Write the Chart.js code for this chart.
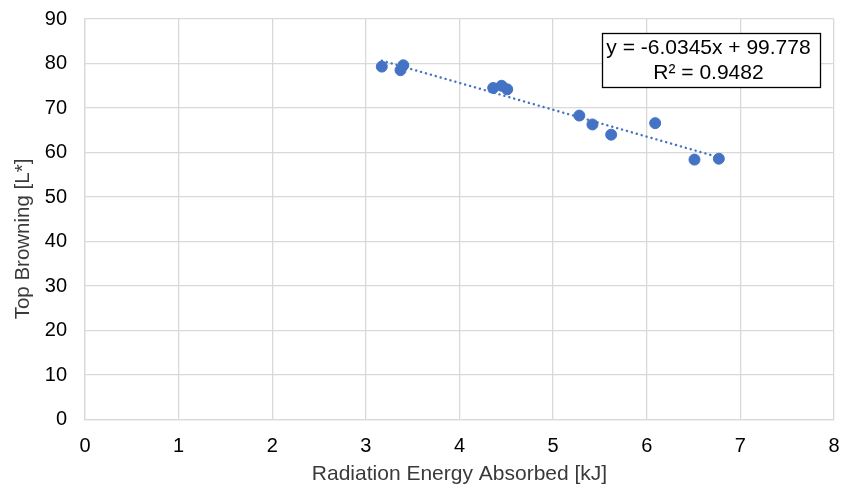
<!DOCTYPE html>
<html><head><meta charset="utf-8">
<script src="https://cdn.jsdelivr.net/npm/chart.js@4/dist/chart.umd.min.js"></script>
<style>html,body{margin:0;padding:0;background:#fff}#wrap{width:843px;height:489px;position:relative}</style>
</head><body><div id="wrap"><canvas id="c"></canvas></div>
<script>
const energyKJ = [3.17, 3.37, 3.40, 4.36, 4.45, 4.51, 5.28, 5.42, 5.62, 6.09, 6.51, 6.77];
const topBrowningL = [79.3, 78.5, 79.6, 74.5, 75.0, 74.2, 68.3, 66.3, 64.0, 66.6, 58.4, 58.6];
const slope = -6.0345;
const intercept = 99.778;
const rSquared = 0.9482;
const trendX = [3.17, 6.77];
const trendY = [slope * trendX[0] + intercept, slope * trendX[1] + intercept];
const xTicks = [0,1,2,3,4,5,6,7,8];
const yTicks = [0,10,20,30,40,50,60,70,80,90];
const xTitle = 'Radiation Energy Absorbed [kJ]';
const yTitle = 'Top Browning [L*]';

const FONT = "'Liberation Sans', Arial, sans-serif";
const BLUE = '#4472C4';
const GRID = '#d9d9d9';
const TITLE_COLOR = '#3a3a3a';

const overlayPlugin = {
  id: 'overlay',
  afterDatasetsDraw(chart) {
    const ctx = chart.ctx;
    const x0 = 602, y0 = 33, w = 218, h = 54;
    ctx.save();
    ctx.fillStyle = '#fff';
    ctx.fillRect(x0, y0, w, h);
    ctx.strokeStyle = '#000';
    ctx.lineWidth = 1.3;
    ctx.strokeRect(x0 + 0.5, y0 + 0.5, w, h);
    ctx.fillStyle = '#000';
    ctx.font = '21px ' + FONT;
    ctx.textAlign = 'center';
    ctx.textBaseline = 'middle';
    ctx.fillText('y = ' + slope.toFixed(4) + 'x + ' + intercept.toFixed(3), x0 + w / 2 - 2.5, y0 + 15);
    ctx.fillText('R\u00B2 = ' + rSquared.toFixed(4), x0 + w / 2 - 2.5, y0 + 40);

    // axis titles
    const ca = chart.chartArea;
    ctx.fillStyle = TITLE_COLOR;
    ctx.font = '21px ' + FONT;
    ctx.textAlign = 'center';
    ctx.textBaseline = 'alphabetic';
    ctx.fillText(xTitle, (ca.left + ca.right) / 2, 480);
    ctx.translate(29, 239);
    ctx.rotate(-Math.PI / 2);
    ctx.font = '20.5px ' + FONT;
    ctx.fillText(yTitle, 0, 0);
    ctx.restore();
  }
};

new Chart(document.getElementById('c'), {
  type: 'scatter',
  data: {
    datasets: [
      {
        type: 'line',
        data: trendX.map((x, i) => ({x: x, y: trendY[i]})),
        borderColor: BLUE,
        borderWidth: 2.4,
        borderDash: [0.1, 5],
        borderCapStyle: 'round',
        pointRadius: 0,
        fill: false,
        order: 2
      },
      {
        data: energyKJ.map((x, i) => ({x: x, y: topBrowningL[i]})),
        backgroundColor: BLUE,
        borderColor: BLUE,
        pointRadius: 5.5,
        pointHoverRadius: 5.5,
        order: 1
      }
    ]
  },
  options: {
    responsive: true,
    maintainAspectRatio: false,
    animation: false,
    devicePixelRatio: 1,
    layout: { padding: { top: 19, right: 9, left: 0, bottom: 0 } },
    plugins: { legend: { display: false }, tooltip: { enabled: false } },
    scales: {
      x: {
        type: 'linear', min: 0, max: 8,
        afterBuildTicks: s => { s.ticks = xTicks.map(v => ({value: v})); },
        afterFit: s => { s.height = 69.5; s.paddingLeft = 0; s.paddingRight = 0; },
        grid: { color: GRID, lineWidth: 1.3, drawTicks: false },
        border: { color: GRID, width: 1.3 },
        ticks: { color: '#000', font: { family: FONT, size: 20 }, padding: 15 }
      },
      y: {
        type: 'linear', min: 0, max: 90,
        afterBuildTicks: s => { s.ticks = yTicks.map(v => ({value: v})); },
        afterFit: s => { s.width = 85; s.paddingTop = 0; s.paddingBottom = 0; },
        grid: { color: GRID, lineWidth: 1.3, drawTicks: false },
        border: { color: GRID, width: 1.3 },
        ticks: { color: '#000', font: { family: FONT, size: 20 }, padding: 18 }
      }
    }
  },
  plugins: [overlayPlugin]
});
</script></body></html>
